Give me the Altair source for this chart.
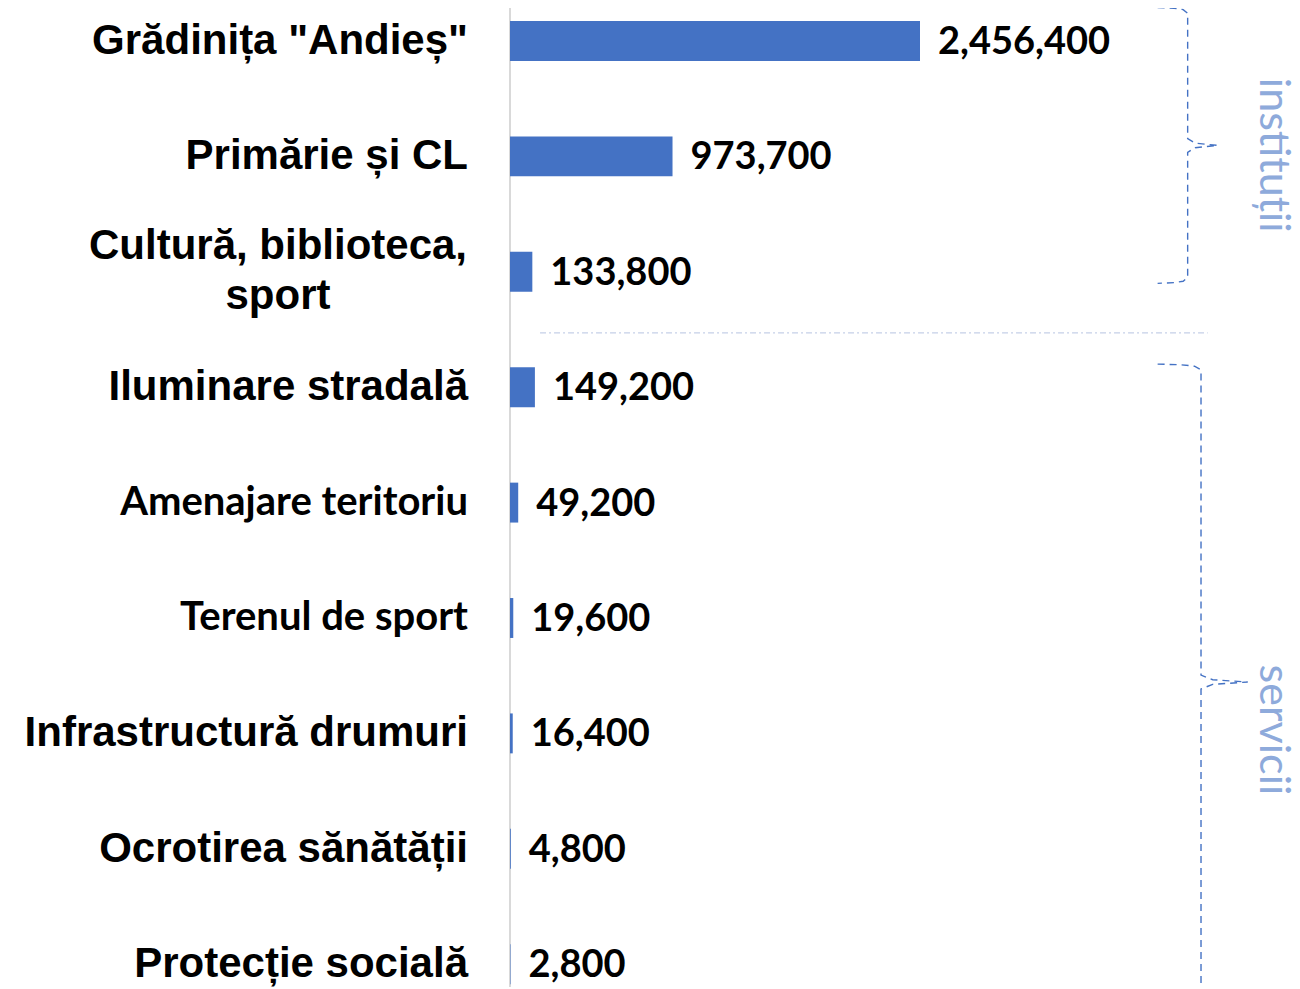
import altair as alt
import pandas as pd

# ---------------- data ----------------
categories = [
    'Grădinița "Andieș"',
    "Primărie și CL",
    "Cultură, biblioteca,\nsport",
    "Iluminare stradală",
    "Amenajare teritoriu",
    "Terenul de sport",
    "Infrastructură drumuri",
    "Ocrotirea sănătății",
    "Protecție socială",
]
values = [2456400, 973700, 133800, 149200, 49200, 19600, 16400, 4800, 2800]
# labels drawn in the second (Calibri-like) font in the original
calibri_labels = ["Amenajare teritoriu", "Terenul de sport"]
group_names = ["instituții", "servicii"]
group_first = [0, 3]      # first category index of each group
group_last = [2, 9]       # last category index of each group (servicii continues below)

# ---------------- layout ----------------
W, H = 1284, 979
STEP = 115.4              # px per category
FIRST = 33                # px of first category center
K = 410 / 2456400         # px per unit
ZERO_PX = 502

xs = alt.Scale(domain=[-ZERO_PX / K, (W - ZERO_PX) / K], nice=False, zero=False)
ys = alt.Scale(domain=[-FIRST / STEP, (H - FIRST) / STEP], nice=False, zero=False, reverse=True)

df = pd.DataFrame({"cat": categories, "value": values, "idx": list(range(len(categories)))})

BAR_HALF = 0.173
base = alt.Chart(df)

axis_line = alt.Chart(pd.DataFrame({"v": [0]})).mark_rule(color="#d9d9d9", strokeWidth=2).encode(
    x=alt.X("v:Q", scale=xs, axis=None)
)

bars = base.transform_calculate(
    y0=f"datum.idx - {BAR_HALF}", y1=f"datum.idx + {BAR_HALF}", zero="0"
).mark_rect(color="#4472c4", clip=True).encode(
    x=alt.X("value:Q", scale=xs, axis=None),
    x2="zero:Q",
    y=alt.Y("y0:Q", scale=ys, axis=None),
    y2="y1:Q",
)

LABEL_X = 460
lab_arial = base.transform_filter(
    {"not": alt.FieldOneOfPredicate(field="cat", oneOf=calibri_labels)}
).transform_filter("indexof(datum.cat, '\\n') < 0").mark_text(
    align="right", baseline="middle", font="Liberation Sans", fontWeight="bold",
    fontSize=42, color="#000000"
).encode(x=alt.value(LABEL_X), y=alt.Y("idx:Q", scale=ys, axis=None), text="cat:N")

lab_calibri = base.transform_filter(
    alt.FieldOneOfPredicate(field="cat", oneOf=calibri_labels)
).mark_text(
    align="right", baseline="middle", font="Lato", fontWeight="bold",
    fontSize=40, color="#000000"
).encode(x=alt.value(LABEL_X), y=alt.Y("idx:Q", scale=ys, axis=None), text="cat:N")

lab_multi = base.transform_filter("indexof(datum.cat, '\\n') >= 0").mark_text(
    align="center", baseline="middle", font="Liberation Sans", fontWeight="bold",
    fontSize=42, color="#000000", lineBreak="\n", lineHeight=50, dy=-26
).encode(x=alt.value(270), y=alt.Y("idx:Q", scale=ys, axis=None), text="cat:N")

val_labels = base.mark_text(
    align="left", baseline="middle", dx=18, dy=2, font="Lato", fontWeight="bold",
    fontSize=38, color="#000000"
).encode(
    x=alt.X("value:Q", scale=xs, axis=None),
    y=alt.Y("idx:Q", scale=ys, axis=None),
    text=alt.Text("value:Q", format=","),
)

# separator between groups
sep = alt.Chart(pd.DataFrame({"x": [0.18e6], "x2": [4.18e6], "y": [2.53]})).mark_rule(
    color="#c5d0e8", strokeWidth=1.2, strokeDash=[6, 3, 2, 3]
).encode(
    x=alt.X("x:Q", scale=xs, axis=None), x2="x2:Q", y=alt.Y("y:Q", scale=ys, axis=None)
)

# curly braces (decorations), in data units
def brace(top, bottom, x_end, x_spine, x_tip, gid):
    mid = (top + bottom) / 2
    dx = x_spine - x_end
    pts = [
        (x_end, top), (x_end + 0.55 * dx, top + 0.006), (x_end + 0.85 * dx, top + 0.018),
        (x_spine, top + 0.05),
        (x_spine, mid - 0.06), (x_spine + 0.25 * (x_tip - x_spine), mid - 0.02), (x_tip, mid),
        (x_spine + 0.25 * (x_tip - x_spine), mid + 0.02), (x_spine, mid + 0.06),
        (x_spine, bottom - 0.05), (x_end + 0.85 * dx, bottom - 0.018),
        (x_end + 0.55 * dx, bottom - 0.006), (x_end, bottom),
    ]
    return pd.DataFrame({"bx": [p[0] for p in pts], "by": [p[1] for p in pts],
                         "ord": list(range(len(pts))), "g": gid})

braces_df = pd.concat([
    brace(group_first[0] - 0.29, group_last[0] + 0.10, 3.88e6, 4.06e6, 4.24e6, 0),
    brace(group_first[1] - 0.20, group_last[1] - 0.69, 3.88e6, 4.14e6, 4.42e6, 1),
])
braces = alt.Chart(braces_df).mark_line(
    color="#4472c4", strokeWidth=1.4, strokeDash=[7, 5], clip=True
).encode(
    x=alt.X("bx:Q", scale=xs, axis=None),
    y=alt.Y("by:Q", scale=ys, axis=None),
    order="ord:Q",
    detail="g:N",
)

grp_df = pd.DataFrame({"name": group_names, "gy": [0.99, 5.97], "gx": [4.57e6, 4.57e6]})
grp_text = alt.Chart(grp_df).mark_text(
    angle=90, align="center", baseline="middle", font="Lato", fontSize=43,
    color="#8eaadb"
).encode(
    x=alt.X("gx:Q", scale=xs, axis=None),
    y=alt.Y("gy:Q", scale=ys, axis=None),
    text="name:N",
)

chart = alt.layer(
    axis_line, sep, bars, lab_arial, lab_calibri, lab_multi, val_labels, braces, grp_text
).properties(
    width=W, height=H, padding=0, autosize=alt.AutoSizeParams(type="none"),
    view=alt.ViewBackground(stroke=None, strokeWidth=0)
).configure_view(strokeOpacity=0, strokeWidth=0).configure(background="#ffffff")

chart.save("out.html", embed_options={"renderer": "svg", "actions": False})
